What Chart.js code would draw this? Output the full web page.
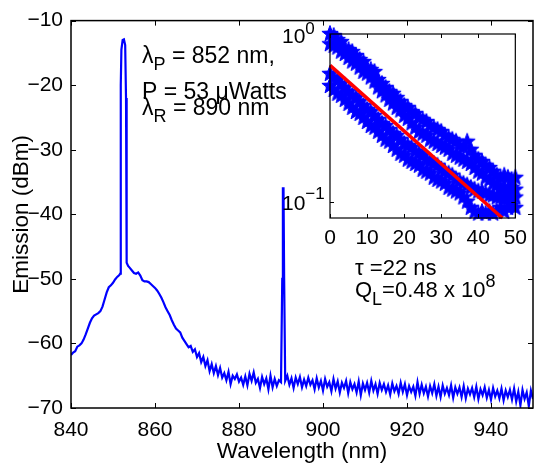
<!DOCTYPE html>
<html>
<head>
<meta charset="utf-8">
<script src="https://cdn.jsdelivr.net/npm/chart.js@4/dist/chart.umd.min.js"></script>
<style>
  body { margin: 0; background: #fff; }
  #wrap { position: relative; width: 535px; height: 466px; }
  #mainChart { position: absolute; left: 0; top: 0; }
  #insetChart { position: absolute; left: 270px; top: 0; }
</style>
</head>
<body>
<div id="wrap">
  <canvas id="mainChart" width="535" height="466"></canvas>
  <canvas id="insetChart" width="265" height="260"></canvas>
</div>
<script>
// emission spectrum (nm, dBm)
const wavelength = [
  840.0, 840.5, 841.0, 841.5, 842.0, 842.5, 843.0, 843.5, 844.0, 844.5,
  845.0, 845.5, 846.0, 846.5, 847.0, 847.5, 848.0, 848.5, 849.0, 849.5,
  850.0, 850.5, 851.0, 851.5, 851.7,
  851.8, 851.9, 852.0, 852.3, 852.6, 852.9, 853.1, 853.2, 853.3, 853.6,
  854.0, 854.5, 855.0, 855.5, 856.0, 856.5, 857.0, 857.5, 858.0, 858.5,
  859.0, 859.5, 860.0, 860.5, 861.0, 861.5, 862.0, 862.5, 863.0, 863.5,
  864.0, 864.5, 865.0, 865.5, 866.0, 866.5, 867.0, 867.5, 868.0, 868.5,
  869.0, 869.5, 870.0, 870.5, 871.0, 871.5, 872.0, 872.5, 873.0, 873.5,
  874.0, 874.5, 875.0, 875.5, 876.0, 876.5, 877.0, 877.5, 878.0, 878.5,
  879.0, 879.5, 880.0, 880.5, 881.0, 881.5, 882.0, 882.5, 883.0, 883.5,
  884.0, 884.5, 885.0, 885.5, 886.0, 886.5, 887.0, 887.5, 888.0, 888.5,
  889.0, 889.5, 890.0, 890.3, 890.45, 890.6, 890.75, 891.0, 891.5,
  892.0, 892.5, 893.0, 893.5, 894.0, 894.5, 895.0, 895.5, 896.0, 896.5,
  897.0, 897.5, 898.0, 898.5, 899.0, 899.5, 900.0, 900.5, 901.0, 901.5,
  902.0, 902.5, 903.0, 903.5, 904.0, 904.5, 905.0, 905.5, 906.0, 906.5,
  907.0, 907.5, 908.0, 908.5, 909.0, 909.5, 910.0, 910.5, 911.0, 911.5,
  912.0, 912.5, 913.0, 913.5, 914.0, 914.5, 915.0, 915.5, 916.0, 916.5,
  917.0, 917.5, 918.0, 918.5, 919.0, 919.5, 920.0, 920.5, 921.0, 921.5,
  922.0, 922.5, 923.0, 923.5, 924.0, 924.5, 925.0, 925.5, 926.0, 926.5,
  927.0, 927.5, 928.0, 928.5, 929.0, 929.5, 930.0, 930.5, 931.0, 931.5,
  932.0, 932.5, 933.0, 933.5, 934.0, 934.5, 935.0, 935.5, 936.0, 936.5,
  937.0, 937.5, 938.0, 938.5, 939.0, 939.5, 940.0, 940.5, 941.0, 941.5,
  942.0, 942.5, 943.0, 943.5, 944.0, 944.5, 945.0, 945.5, 946.0, 946.5,
  947.0, 947.5, 948.0, 948.5, 949.0, 949.5, 950.0
];
const emission = [
  -61.8, -61.4, -61.2, -60.5, -60.3, -60.0, -59.4, -58.6, -57.7, -56.8,
  -56.1, -55.7, -55.5, -55.3, -55.0, -54.3, -53.2, -52.1, -51.3, -51.0,
  -50.6, -50.1, -49.7, -49.4, -49.2,
  -40.0, -20.0, -14.5, -13.0, -12.9, -13.8, -22.0, -40.0, -47.5, -48.0,
  -48.3, -48.7, -49.1, -49.2, -49.0, -49.5, -50.2, -50.4, -50.4, -50.5,
  -50.8, -51.1, -51.4, -51.8, -52.3, -52.9, -53.6, -54.4, -55.0, -55.6,
  -56.4, -57.1, -57.7, -58.0, -58.3, -59.1, -59.6, -60.1, -60.6, -60.4,
  -61.3, -60.9, -62.1, -61.5, -62.9, -62.1, -63.5, -62.6, -64.3, -63.2,
  -64.6, -63.5, -64.9, -63.8, -65.3, -64.6, -65.7, -64.4, -66.3, -65.0,
  -65.5, -64.8, -65.9, -65.3, -66.4, -65.1, -66.5, -64.7, -65.8, -64.5,
  -66.1, -65.5, -66.9, -65.2, -66.3, -65.4, -67.1, -65.0, -66.8, -65.5,
  -66.6, -65.7, -66.0, -50.0, -36.0, -36.0, -50.0, -65.8, -65.0,
  -66.4, -65.4, -66.9, -65.3, -66.3, -65.2, -66.8, -65.6, -66.6, -65.3,
  -66.4, -65.7, -67.1, -65.4, -66.8, -65.8, -67.3, -65.5, -66.7, -66.0,
  -67.4, -65.5, -67.0, -65.9, -67.6, -66.1, -66.9, -65.8, -67.7, -66.0,
  -67.1, -66.3, -67.6, -65.9, -68.0, -66.2, -67.2, -66.1, -67.6, -65.8,
  -67.3, -66.3, -67.8, -66.1, -67.2, -66.3, -67.5, -66.5, -67.9, -66.2,
  -67.4, -66.6, -67.8, -66.1, -67.5, -66.3, -68.0, -66.6, -67.5, -66.7,
  -68.1, -66.0, -67.8, -66.4, -67.7, -66.7, -68.2, -66.6, -67.7, -66.3,
  -68.1, -66.7, -68.3, -66.5, -67.8, -66.9, -68.0, -66.5, -68.4, -66.8,
  -67.8, -66.8, -68.3, -66.6, -68.5, -67.0, -67.9, -66.9, -68.3, -66.7,
  -68.6, -67.1, -68.0, -66.8, -68.4, -67.2, -68.7, -66.9, -68.2, -67.3,
  -68.5, -67.0, -68.8, -67.3, -68.3, -67.2, -68.7, -67.0, -69.0, -67.5,
  -69.6, -67.2, -68.6, -67.6, -69.7, -67.3, -68.6
];
const xTicks = [840, 860, 880, 900, 920, 940];
const yTicks = [-70, -60, -50, -40, -30, -20, -10];

// inset: normalised decay (time in ns), upper / lower edge of each trace + exponential fit
const decayTime = [
  0, 1, 2, 3, 4, 5, 6, 7, 8, 9, 10, 11, 12, 13, 14, 15, 16, 17, 18, 19,
  20, 21, 22, 23, 24, 25, 26, 27, 28, 29, 30, 31, 32, 33, 34, 35, 36, 37,
  38, 39, 40, 41, 42, 43, 44, 45, 46, 47, 48, 49, 50
];
const upperHi = [
  1.000, 0.973, 0.921, 0.896, 0.825, 0.803, 0.781, 0.740, 0.700, 0.681,
  0.628, 0.611, 0.594, 0.532, 0.504, 0.477, 0.452, 0.440, 0.416, 0.394,
  0.373, 0.363, 0.343, 0.334, 0.316, 0.308, 0.299, 0.283, 0.276, 0.268,
  0.261, 0.247, 0.240, 0.234, 0.228, 0.215, 0.210, 0.228, 0.204, 0.188,
  0.178, 0.173, 0.164, 0.159, 0.151, 0.143, 0.139, 0.143, 0.139, 0.135,
  0.139
];
const upperLo = [
  0.870, 0.850, 0.830, 0.785, 0.760, 0.720, 0.685, 0.665, 0.630, 0.595,
  0.580, 0.550, 0.520, 0.480, 0.455, 0.430, 0.405, 0.385, 0.363, 0.350,
  0.325, 0.312, 0.293, 0.276, 0.261, 0.254, 0.247, 0.234, 0.228, 0.221,
  0.215, 0.210, 0.204, 0.193, 0.188, 0.183, 0.178, 0.173, 0.168, 0.159,
  0.151, 0.147, 0.139, 0.135, 0.128, 0.125, 0.118, 0.121, 0.118, 0.121,
  0.118
];
const lowerHi = [
  0.578, 0.547, 0.532, 0.504, 0.477, 0.452, 0.428, 0.416, 0.394, 0.373,
  0.353, 0.343, 0.325, 0.308, 0.291, 0.283, 0.268, 0.254, 0.247, 0.234,
  0.221, 0.215, 0.210, 0.199, 0.193, 0.188, 0.178, 0.173, 0.168, 0.164,
  0.155, 0.151, 0.147, 0.143, 0.135, 0.132, 0.128, 0.125, 0.121, 0.118,
  0.115, 0.115, 0.112, 0.109, 0.109, 0.106, 0.106, 0.103, 0.106, 0.103,
  0.106
];
const lowerLo = [
  0.490, 0.464, 0.440, 0.428, 0.405, 0.383, 0.363, 0.343, 0.334, 0.316,
  0.299, 0.283, 0.276, 0.261, 0.247, 0.234, 0.228, 0.215, 0.204, 0.193,
  0.188, 0.178, 0.173, 0.168, 0.164, 0.155, 0.151, 0.147, 0.139, 0.135,
  0.132, 0.128, 0.121, 0.118, 0.115, 0.112, 0.106, 0.100, 0.092, 0.087,
  0.085, 0.087, 0.085, 0.087, 0.085, 0.087, 0.092, 0.087, 0.092, 0.095,
  0.092
];
const fitTime = [0, 46.5];
const fitValue = [0.65, 0.08];
const insetXTicks = [0, 10, 20, 30, 40, 50];

const FONT = '"Liberation Sans", Arial, Helvetica, sans-serif';
const BLUE = '#0000ff';

// draws text runs with sub/superscripts
function drawRuns(ctx, x, y, runs, base) {
  ctx.save();
  ctx.fillStyle = '#000';
  ctx.textBaseline = 'alphabetic';
  ctx.textAlign = 'left';
  runs.forEach(r => {
    ctx.font = (r.size || base || 22) + 'px ' + FONT;
    ctx.fillText(r.t, x, y + (r.dy || 0));
    x += ctx.measureText(r.t).width;
  });
  ctx.restore();
}

const mainFrame = {
  id: 'mainFrame',
  afterDraw(chart) {
    const ctx = chart.ctx;
    const a = chart.chartArea;
    const xs = chart.scales.x, ys = chart.scales.y;
    ctx.save();
    ctx.strokeStyle = '#000';
    ctx.lineWidth = 1.5;
    ctx.strokeRect(a.left, a.top, a.right - a.left, a.bottom - a.top);
    ctx.lineWidth = 1;
    ctx.beginPath();
    xTicks.forEach(v => {
      const px = Math.round(xs.getPixelForValue(v)) + 0.5;
      ctx.moveTo(px, a.bottom); ctx.lineTo(px, a.bottom - 5);
      ctx.moveTo(px, a.top); ctx.lineTo(px, a.top + 5);
    });
    yTicks.forEach(v => {
      const py = Math.round(ys.getPixelForValue(v)) + 0.5;
      ctx.moveTo(a.left, py); ctx.lineTo(a.left + 5, py);
      ctx.moveTo(a.right, py); ctx.lineTo(a.right - 5, py);
    });
    ctx.stroke();

    // y axis title
    ctx.translate(22, (a.top + a.bottom) / 2);
    ctx.rotate(-Math.PI / 2);
    ctx.font = '22.5px ' + FONT;
    ctx.fillStyle = '#000';
    ctx.textAlign = 'center';
    ctx.textBaseline = 'middle';
    ctx.fillText('Emission (dBm)', 0, 0);
    ctx.restore();

    drawRuns(ctx, 142, 63, [{t: 'λ'}, {t: 'P', size: 18, dy: 7}, {t: ' = 852 nm,'}], 23);
    drawRuns(ctx, 142, 99, [{t: 'P = 53 μWatts'}], 23);
    drawRuns(ctx, 142, 115, [{t: 'λ'}, {t: 'R', size: 18, dy: 7}, {t: ' = 890 nm'}], 23);
    drawRuns(ctx, 355, 275, [{t: 'τ =22 ns'}], 22);
    drawRuns(ctx, 355, 297, [{t: 'Q'}, {t: 'L', size: 18, dy: 8}, {t: '=0.48 x 10'}, {t: '8', size: 18, dy: -10}], 22);
  }
};

new Chart(document.getElementById('mainChart').getContext('2d'), {
  type: 'line',
  data: {
    datasets: [{
      data: wavelength.map((w, i) => ({x: w, y: emission[i]})),
      borderColor: BLUE,
      borderWidth: 2.2,
      pointRadius: 0,
      tension: 0,
      fill: false
    }]
  },
  options: {
    responsive: false,
    devicePixelRatio: 1,
    animation: false,
    layout: { padding: { top: 13, right: 2, left: 0, bottom: 0 } },
    plugins: { legend: { display: false }, tooltip: { enabled: false } },
    scales: {
      x: {
        type: 'linear',
        min: 840, max: 950,
        afterBuildTicks: s => { s.ticks = xTicks.map(v => ({value: v})); },
        afterFit: s => { s.height = 58; },
        grid: { display: false, drawTicks: false },
        border: { display: false },
        ticks: { color: '#000', font: { family: FONT, size: 21 }, padding: 10, autoSkip: false, maxRotation: 0 },
        title: { display: true, text: 'Wavelength (nm)', color: '#000', font: { family: FONT, size: 22.5 }, padding: { top: 0, bottom: 1 } }
      },
      y: {
        min: -70, max: -10,
        afterBuildTicks: s => { s.ticks = yTicks.map(v => ({value: v})); },
        afterFit: s => { s.width = 71; },
        grid: { display: false, drawTicks: false },
        border: { display: false },
        ticks: {
          color: '#000', font: { family: FONT, size: 21 }, padding: 8, autoSkip: false,
          callback: v => v < 0 ? '\u2212' + Math.abs(v) : String(v)
        }
      }
    }
  },
  plugins: [mainFrame]
});

// filled pentagram marker
function makeStar(r) {
  const c = document.createElement('canvas');
  const s = Math.ceil(r * 2 + 3);
  c.width = s; c.height = s;
  const g = c.getContext('2d');
  g.fillStyle = BLUE;
  g.strokeStyle = BLUE;
  g.lineWidth = 1;
  g.lineJoin = 'miter';
  g.beginPath();
  for (let k = 0; k < 10; k++) {
    const rad = k % 2 === 0 ? r : r * 0.42;
    const ang = -Math.PI / 2 + k * Math.PI / 5;
    const px = s / 2 + rad * Math.cos(ang), py = s / 2 + rad * Math.sin(ang);
    if (k === 0) g.moveTo(px, py); else g.lineTo(px, py);
  }
  g.closePath();
  g.fill();
  g.stroke();
  return c;
}
const star = makeStar(8.5);

const OFF = 270;
const insetFrame = {
  id: 'insetFrame',
  afterDraw(chart) {
    const ctx = chart.ctx;
    const a = chart.chartArea;
    const xs = chart.scales.x, ys = chart.scales.y;
    ctx.save();
    ctx.strokeStyle = '#000';
    ctx.lineWidth = 1.2;
    ctx.strokeRect(a.left, a.top, a.right - a.left, a.bottom - a.top);
    ctx.lineWidth = 1;
    ctx.beginPath();
    insetXTicks.forEach(v => {
      const px = Math.round(xs.getPixelForValue(v)) + 0.5;
      ctx.moveTo(px, a.bottom); ctx.lineTo(px, a.bottom - 4);
      ctx.moveTo(px, a.top); ctx.lineTo(px, a.top + 4);
    });
    const py = Math.round(ys.getPixelForValue(0.1)) + 0.5;
    ctx.moveTo(a.left, py); ctx.lineTo(a.left + 4, py);
    ctx.moveTo(a.right, py); ctx.lineTo(a.right - 4, py);
    ctx.stroke();
    ctx.restore();
    drawRuns(ctx, 282 - OFF, 43, [{t: '10'}, {t: '0', size: 17, dy: -9}], 21);
    drawRuns(ctx, 282 - OFF, 210, [{t: '10'}, {t: '\u22121', size: 17, dy: -11}], 21);
  }
};

const starPoints = [upperHi, upperLo, lowerHi, lowerLo]
  .map(arr => decayTime.map((t, i) => ({x: t, y: arr[i]})))
  .flat();

new Chart(document.getElementById('insetChart').getContext('2d'), {
  type: 'scatter',
  data: {
    datasets: [{
      type: 'line',
      data: fitTime.map((t, i) => ({x: t, y: fitValue[i]})),
      borderColor: '#ff0000',
      borderWidth: 3.5,
      pointRadius: 0,
      clip: false
    }, {
      data: starPoints,
      pointStyle: star,
      pointRadius: 8,
      showLine: false,
      clip: false
    }]
  },
  options: {
    responsive: false,
    devicePixelRatio: 1,
    animation: false,
    layout: { padding: { top: 34, right: 18, left: 0, bottom: 0 } },
    plugins: { legend: { display: false }, tooltip: { enabled: false } },
    scales: {
      x: {
        type: 'linear',
        min: 0, max: 50,
        afterBuildTicks: s => { s.ticks = insetXTicks.map(v => ({value: v})); },
        afterFit: s => { s.height = 42; },
        grid: { display: false, drawTicks: false },
        border: { display: false },
        ticks: { color: '#000', font: { family: FONT, size: 21 }, padding: 8, autoSkip: false, maxRotation: 0 }
      },
      y: {
        type: 'logarithmic',
        min: 0.08, max: 1,
        afterFit: s => { s.width = 60; },
        grid: { display: false, drawTicks: false },
        border: { display: false },
        ticks: { display: false }
      }
    }
  },
  plugins: [insetFrame]
});
</script>
</body>
</html>
